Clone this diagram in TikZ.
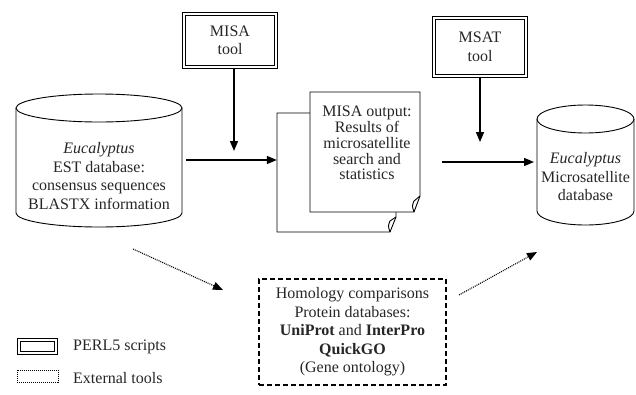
\documentclass[tikz,border=0pt]{standalone}
\usepackage{fontspec}
\setmainfont{Liberation Serif}
\usetikzlibrary{arrows.meta}
\begin{document}
\begin{tikzpicture}[x=1pt,y=-1pt,
  every node/.style={font=\fontsize{16}{18.5}\selectfont, align=center, inner sep=0pt, text=black!85},
  perlbox/.style={draw, line width=1.1pt, double=white, double distance=2pt},
  outline/.style={draw, line width=0.9pt},
  arr/.style={line width=1.4pt, -{Triangle[length=10pt,width=8pt]}},
  dotarr/.style={line width=1.1pt, dash pattern=on 1pt off 1pt, -{Triangle[length=10pt,width=8pt]}},
  extbox/.style={draw, line width=1.2pt, dash pattern=on 5pt off 3pt},
  legdot/.style={draw, line width=0.8pt, dash pattern=on 1pt off 1pt}]
\useasboundingbox (0,0) rectangle (636,394);

% EST database cylinder
\draw[outline] (16,108) -- (16,213) arc[start angle=180, end angle=0, x radius=83, y radius=14] -- (182,108);
\draw[outline] (99,108) ellipse [x radius=83, y radius=14];
\node (est) at (99,176) {\textit{Eucalyptus}\\EST database:\\consensus sequences\\BLASTX information};

% microsatellite database cylinder
\draw[outline] (537,119) -- (537,211) arc[start angle=180, end angle=0, x radius=48.5, y radius=14] -- (634,119);
\draw[outline] (585.5,119) ellipse [x radius=48.5, y radius=14];
\node (msdb) at (585.5,177) {\textit{Eucalyptus}\\Microsatellite\\database};

% PERL scripts
\node[perlbox, minimum width=92, minimum height=53] (misa) at (230,40.5) {MISA\\tool};
\node[perlbox, minimum width=92, minimum height=58] (msat) at (480,47) {MSAT\\tool};

% MISA output: two stacked pages with curled corners
\node[minimum width=119, minimum height=119] (docB) at (336.5,172.5) {};
\filldraw[outline, fill=white] (277,113) -- (396,113) -- (396,217) -- (390,232) -- (277,232) -- cycle;
\draw[outline] (390,232) .. controls (388,226) .. (390,221) -- (396,217);
\filldraw[outline, fill=white] (310,92) -- (420,92) -- (420,196) -- (414,212) -- (310,212) -- cycle;
\draw[outline] (414,212) .. controls (412,206) .. (414,201) -- (420,196);
\node[font=\fontsize{16}{15.8}\selectfont] (doc) at (367,143) {MISA output:\\Results of\\microsatellite\\search and\\statistics};

% external tools
\node[extbox, minimum width=187, minimum height=106] (homol) at (352.5,332)
  {Homology comparisons\\Protein databases:\\\textbf{UniProt} and \textbf{InterPro}\\\textbf{QuickGO}\\(Gene ontology)};

% connectors
\coordinate (misaIn) at (234,151);
\coordinate (estOut) at (186,160);
\coordinate (msatIn) at (480,142);
\coordinate (docOut) at (442,162);
\coordinate (estDot) at (133,249);
\coordinate (homolIn) at (223,290);
\coordinate (homolOut) at (459,295);
\coordinate (msdbIn) at (537,252);

\draw[arr] ([xshift=4pt]misa.south) -- (misaIn);
\draw[arr] (estOut) -- (docB.west |- estOut);
\draw[arr] (msat.south) -- (msatIn);
\draw[arr] (docOut) -- (534,162);
\draw[dotarr] (estDot) -- (homolIn);
\draw[dotarr] (homolOut) -- (msdbIn);

% legend
\node[perlbox, minimum width=37, minimum height=13] (legPerl) at (37.5,346.5) {};
\node[legdot, minimum width=41, minimum height=12] (legExt) at (37.5,376) {};
\node[anchor=west] (legPerlTxt) at (73,347) {PERL5 scripts};
\node[anchor=west] (legExtTxt) at (73,378) {External tools};
\end{tikzpicture}
\end{document}
